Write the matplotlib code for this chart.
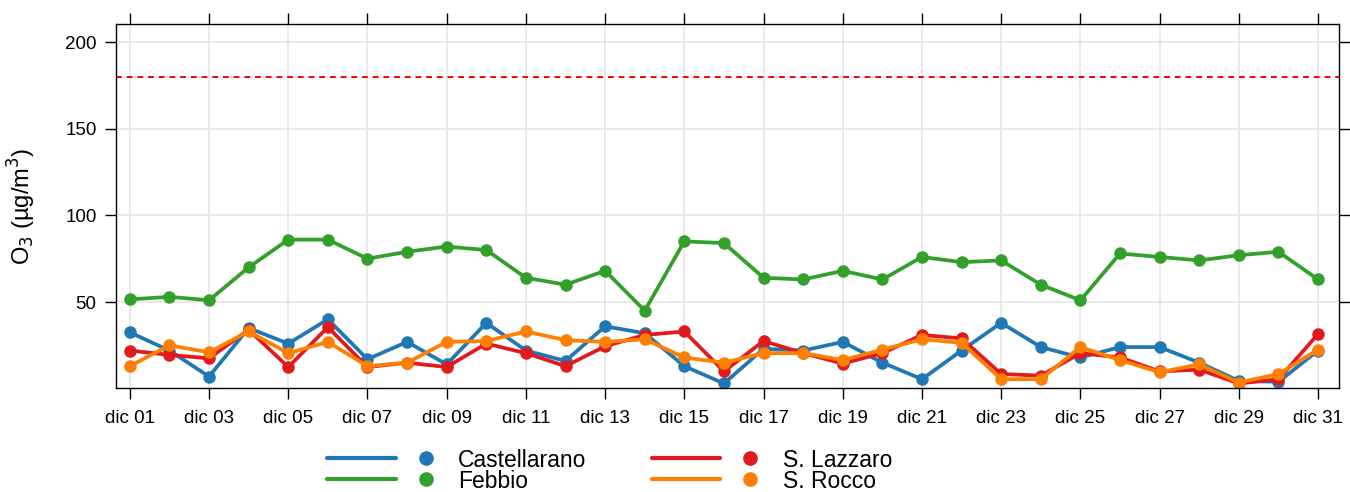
import numpy as np
import matplotlib
matplotlib.use("Agg")
import matplotlib.pyplot as plt
from matplotlib.lines import Line2D

plt.rcParams['font.family'] = ['Liberation Sans', 'DejaVu Sans']

days = np.arange(1, 32)
tick_days = np.arange(1, 32, 2)
tick_labels = ["dic %02d" % d for d in tick_days]

castellarano = [32.5, 22, 7, 35, 26, 40, 17, 27, 14, 38, 22, 16, 36, 32, 13, 3,
                23, 22, 27, 15, 5.5, 22, 38, 24, 18, 24, 24, 15, 4.5, 4, 22]
febbio = [51.5, 53, 51, 70, 86, 86, 75, 79, 82, 80, 64, 60, 68, 45, 85, 84,
          64, 63, 68, 63, 76, 73, 74, 60, 51, 78, 76, 74, 77, 79, 63]
lazzaro = [22, 19.5, 17.5, 34, 12.5, 35.5, 12.5, 15, 12.5, 26, 20.5, 13, 24.5, 31, 33, 10,
           27.5, 20.5, 14.5, 20.5, 31, 29, 8.5, 7.5, 20.5, 18, 10, 11, 3, 5.5, 31.5]
rocco = [13, 25, 21, 33, 20.5, 27, 13, 15, 27, 27.5, 33, 28, 27, 28.5, 18, 15,
         20.5, 20.5, 16.5, 22.5, 28.5, 26.5, 5.5, 5.5, 24, 16.5, 9.5, 14, 3.5, 8.5, 22.5]
limit = 180

series = [("Castellarano", castellarano, "#1f78b4"),
          ("Febbio", febbio, "#33a02c"),
          ("S. Lazzaro", lazzaro, "#e31a1c"),
          ("S. Rocco", rocco, "#ff7f00")]

fig = plt.figure(figsize=(13.5, 4.92), dpi=100)
ax = fig.add_axes([0.0859, 0.2114, 0.9060, 0.7398])

ax.set_xticks(tick_days)
ax.set_yticks([50, 100, 150, 200])
ax.grid(True, color="#e6e6e6", lw=1.2)
ax.set_axisbelow(True)

for name, vals, col in series:
    ax.plot(days, vals, "-o", color=col, lw=2.7, ms=8, label=name)

ax.axhline(limit, color="#ff0000", ls=(0, (3, 2.5)), lw=1.4)

ax.set_xlim(0.65, 31.53)
ax.set_ylim(0.4, 210.4)
ax.set_xticklabels(tick_labels)
ax.tick_params(axis="both", direction="out", length=8, width=1, labelsize=13.5,
               top=True, right=True, labelright=False, labeltop=False)
ax.tick_params(axis="x", pad=8)
ax.tick_params(axis="y", pad=6)
for sp in ax.spines.values():
    sp.set_linewidth(1)
ax.set_ylabel("O$_3$ (µg/m$^3$)", fontsize=17)
ax.yaxis.set_label_coords(-0.0635, 0.5)

# legend drawn below the panel: line, dot, label
mark_rows = [0.0691, 0.0264]
text_rows = [0.0508, 0.0081]
cx = [dict(l0=0.2422, l1=0.2933, m=0.3156, t=0.3393),
      dict(l0=0.4830, l1=0.5333, m=0.5556, t=0.5800)]
entries = [(0, 0), (0, 1), (1, 0), (1, 1)]
for (name, vals, col), (c, r) in zip(series, entries):
    p = cx[c]
    y = mark_rows[r]
    fig.add_artist(Line2D([p["l0"], p["l1"]], [y, y], color=col, lw=3,
                          solid_capstyle="round", transform=fig.transFigure))
    fig.add_artist(Line2D([p["m"]], [y], marker="o", color=col, ms=9.5,
                          transform=fig.transFigure))
    fig.text(p["t"], text_rows[r], name, fontsize=16.5, va="baseline", ha="left")

fig.savefig("out.png", dpi=100)
